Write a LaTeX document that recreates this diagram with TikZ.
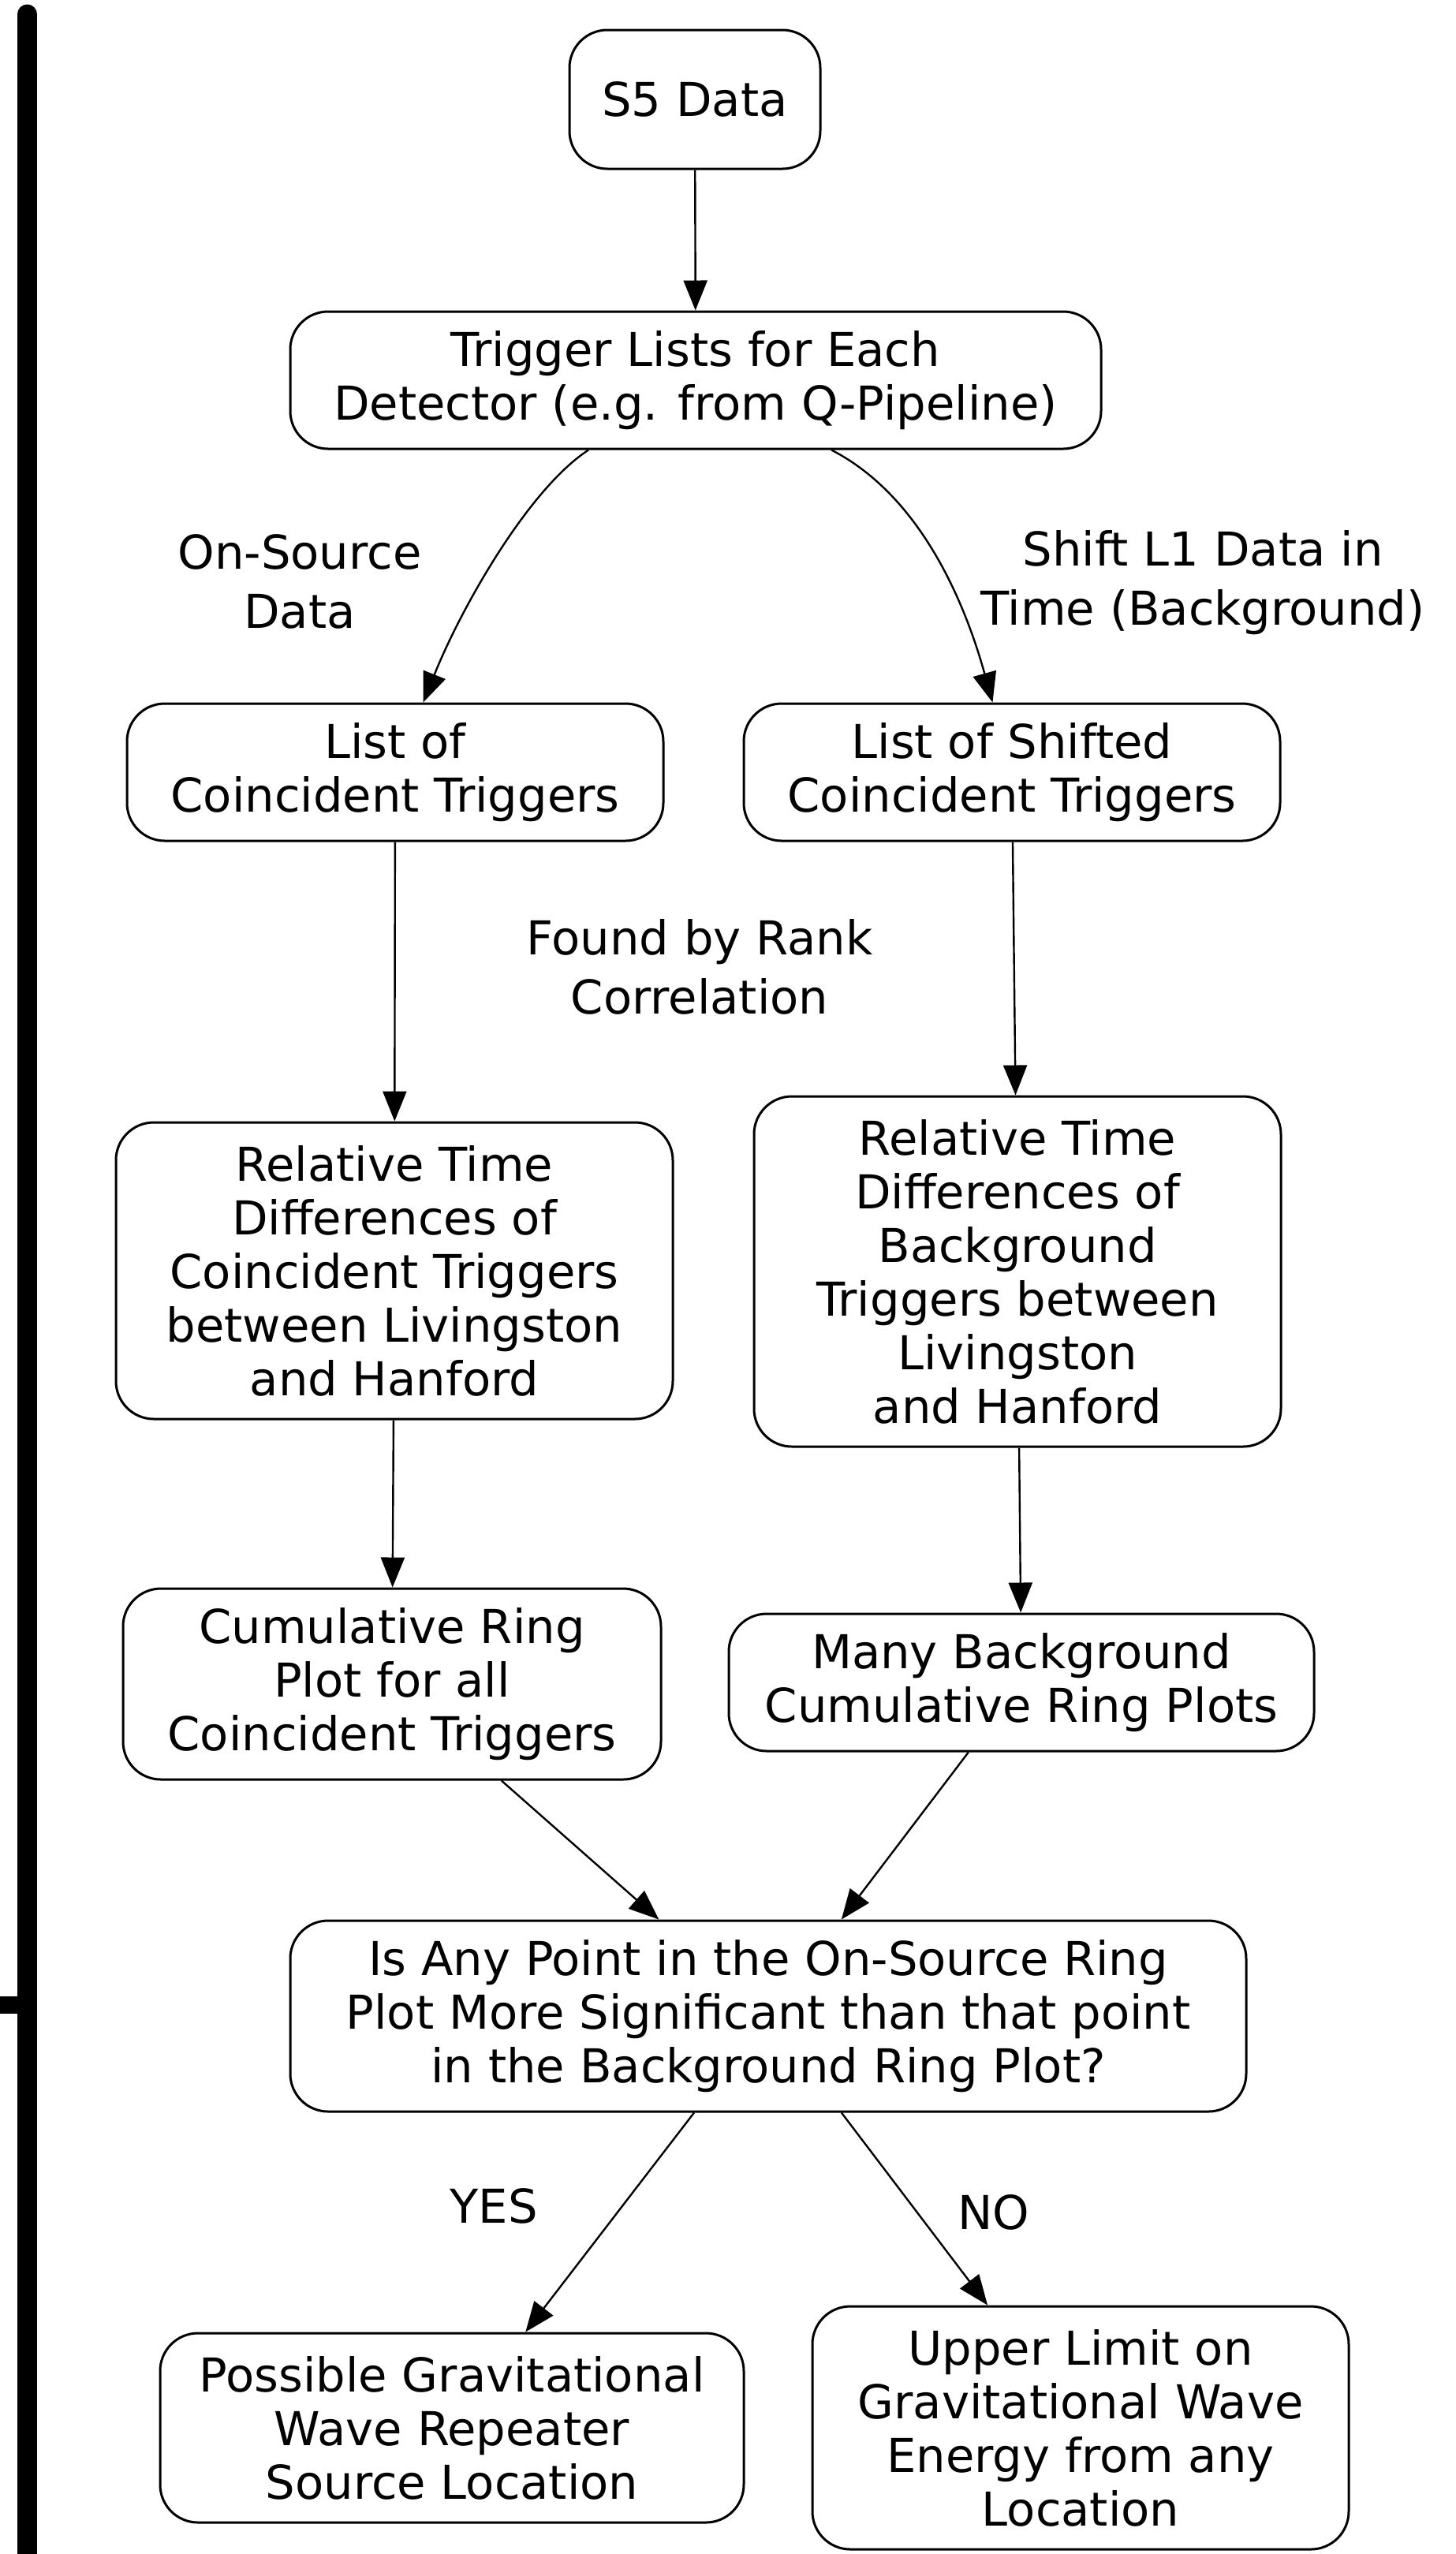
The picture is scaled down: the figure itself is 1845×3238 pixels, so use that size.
\documentclass[tikz,border=0pt]{standalone}
\usepackage{fontspec}
\setmainfont{DejaVu Sans}
\usepackage{tikz}
\usetikzlibrary{arrows.meta}

\newcommand{\boxtxt}{\fontsize{14.8pt}{17pt}\selectfont}
\newcommand{\lbltxt}{\fontsize{14.8pt}{18.75pt}\selectfont}

\begin{document}
\begin{tikzpicture}[
  x=0.25pt, y=-0.25pt,
  box/.style={draw, rounded corners=12pt, align=center, inner sep=0pt,
              line width=0.75pt, font=\boxtxt},
  sz/.style 2 args={minimum width=#1, minimum height=#2},
  lbl/.style={align=center, inner sep=0pt, font=\lbltxt},
  ar/.style={-{Triangle[length=9.5pt, width=7.5pt]}, line width=0.6pt},
  edgebar/.style={line width=6.25pt},
]
\useasboundingbox (0,0) rectangle (1845,3238);

% ---------------- left margin bar ----------------
\draw[edgebar, line cap=round] (34.5,18) -- (34.5,3238);
\draw[edgebar, line width=5.5pt] (0,2542) -- (34.5,2542);

% ---------------- input data ----------------
\node[box, sz={79.5pt}{44pt}] (s5) at (881,126) {S5 Data};
\node[box, sz={257pt}{43.5pt}] (trig) at (882,482)
  {Trigger Lists for Each\\Detector (e.g. from Q-Pipeline)};
\draw[ar] (s5) -- (trig);

% ---------------- on-source / background branches ----------------
\node[box, sz={170pt}{43.5pt}] (list) at (501,979)
  {List of\\Coincident Triggers};
\node[box, sz={170pt}{43.5pt}] (shlist) at (1283,979)
  {List of Shifted\\Coincident Triggers};
\node[lbl] (onsrc) at (380,737) {On-Source\\Data};
\node[lbl] (shift) at (1525,739) {Shift L1 Data in\\Time (Background)};

\draw[ar] (trig) .. controls (670,620) and (585,770) .. (list);
\draw[ar] (trig) .. controls (1170,630) and (1225,770) .. (shlist);

\node[lbl] (rank) at (887,1226) {Found by Rank\\Correlation};

% ---------------- time differences ----------------
\node[box, sz={176.5pt}{94pt}] (reltime) at (500,1611)
  {Relative Time\\Differences of\\Coincident Triggers\\between Livingston\\and Hanford};
\node[box, sz={167pt}{111pt}] (bgtime) at (1290,1612)
  {Relative Time\\Differences of\\Background\\Triggers between\\Livingston\\and Hanford};
\draw[ar] (list) -- (reltime);
\draw[ar] (shlist) -- (bgtime);

% ---------------- ring plots ----------------
\node[box, sz={170.5pt}{60.5pt}] (ring) at (497,2135)
  {Cumulative Ring\\Plot for all\\Coincident Triggers};
\node[box, sz={185.5pt}{43.5pt}] (bgring) at (1295,2133)
  {Many Background\\Cumulative Ring Plots};
\draw[ar] (reltime) -- (ring);
\draw[ar] (bgtime) -- (bgring);

% ---------------- decision ----------------
\node[box, sz={303pt}{60.5pt}] (test) at (974,2556)
  {Is Any Point in the On-Source Ring\\Plot More Significant than that point\\in the Background Ring Plot?};
\draw[ar] (ring) -- (test);
\draw[ar] (bgring) -- (test);

\node[box, sz={185pt}{60pt}] (yes) at (573,3078)
  {Possible Gravitational\\Wave Repeater\\Source Location};
\node[box, sz={170pt}{77pt}] (no) at (1370,3078)
  {Upper Limit on\\Gravitational Wave\\Energy from any\\Location};
\node[lbl] (yeslbl) at (626,2797) {YES};
\node[lbl] (nolbl) at (1260,2805) {NO};
\draw[ar] (test) -- (yes);
\draw[ar] (test) -- (no);
\end{tikzpicture}
\end{document}
